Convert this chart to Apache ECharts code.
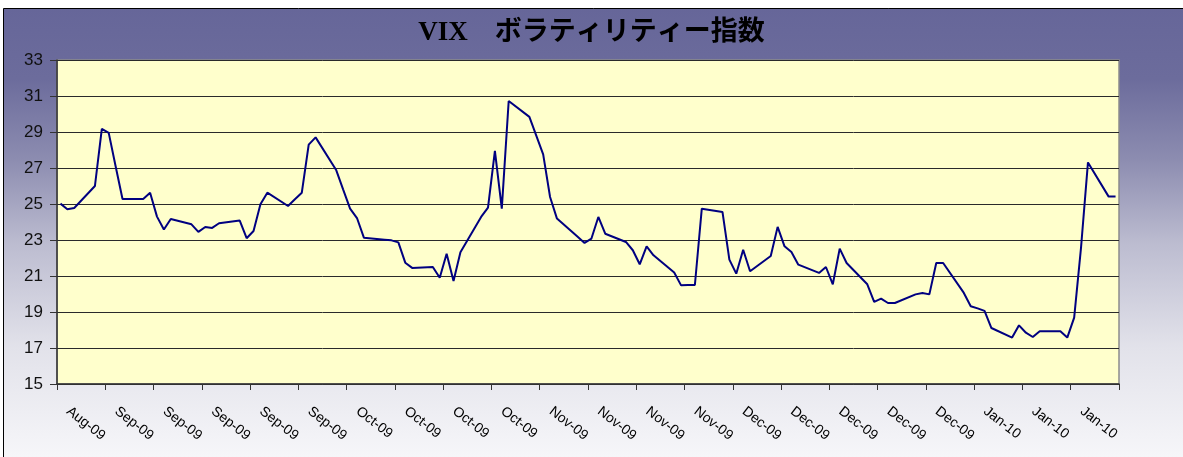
<!DOCTYPE html>
<html lang="ja">

<head>
  <meta charset="UTF-8">
  <title>VIX ボラティリティー指数</title>
  <style>
    html, body { margin: 0; padding: 0; background: #fff; }
    #chart { width: 1183px; height: 457px; }
  </style>
</head>

<body>
  <div id="chart"></div>
  <script src="https://cdn.jsdelivr.net/npm/echarts@6/dist/echarts.min.js"></script>
  <script>
    // 取引日（祝日は前日の値で埋めてある）
    var dates = [
      '2009-08-26', '2009-08-27', '2009-08-28', '2009-08-31',
      '2009-09-01', '2009-09-02', '2009-09-03', '2009-09-04', '2009-09-07', '2009-09-08', '2009-09-09', '2009-09-10', '2009-09-11',
      '2009-09-14', '2009-09-15', '2009-09-16', '2009-09-17', '2009-09-18', '2009-09-21', '2009-09-22', '2009-09-23', '2009-09-24', '2009-09-25',
      '2009-09-28', '2009-09-29', '2009-09-30',
      '2009-10-01', '2009-10-02', '2009-10-05', '2009-10-06', '2009-10-07', '2009-10-08', '2009-10-09', '2009-10-12', '2009-10-13', '2009-10-14',
      '2009-10-15', '2009-10-16', '2009-10-19', '2009-10-20', '2009-10-21', '2009-10-22', '2009-10-23', '2009-10-26', '2009-10-27', '2009-10-28',
      '2009-10-29', '2009-10-30',
      '2009-11-02', '2009-11-03', '2009-11-04', '2009-11-05', '2009-11-06', '2009-11-09', '2009-11-10', '2009-11-11', '2009-11-12', '2009-11-13',
      '2009-11-16', '2009-11-17', '2009-11-18', '2009-11-19', '2009-11-20', '2009-11-23', '2009-11-24', '2009-11-25', '2009-11-26', '2009-11-27',
      '2009-11-30',
      '2009-12-01', '2009-12-02', '2009-12-03', '2009-12-04', '2009-12-07', '2009-12-08', '2009-12-09', '2009-12-10', '2009-12-11', '2009-12-14',
      '2009-12-15', '2009-12-16', '2009-12-17', '2009-12-18', '2009-12-21', '2009-12-22', '2009-12-23', '2009-12-24', '2009-12-25', '2009-12-28',
      '2009-12-29', '2009-12-30', '2009-12-31',
      '2010-01-01', '2010-01-04', '2010-01-05', '2010-01-06', '2010-01-07', '2010-01-08', '2010-01-11', '2010-01-12', '2010-01-13', '2010-01-14',
      '2010-01-15', '2010-01-18', '2010-01-19', '2010-01-20', '2010-01-21', '2010-01-22', '2010-01-25', '2010-01-26'
    ];

    // VIX 終値
    var vix = [
      25.02, 24.71, 24.78, 26.00,
      29.17, 28.95, 27.10, 25.28, 25.28, 25.63, 24.30, 23.58, 24.17,
      23.87, 23.45, 23.72, 23.67, 23.93, 24.08, 23.10, 23.50, 24.98, 25.63,
      24.89, 25.26, 25.63,
      28.30, 28.70, 26.87, 25.80, 24.74, 24.22, 23.13, 23.02, 22.98, 22.87,
      21.74, 21.45, 21.50, 20.90, 22.24, 20.72, 22.32, 24.28, 24.80, 27.95,
      24.74, 30.72,
      29.84, 28.80, 27.76, 25.39, 24.19, 23.18, 22.84, 23.08, 24.28, 23.35,
      22.89, 22.43, 21.65, 22.65, 22.15, 21.19, 20.48, 20.50, 20.50, 24.74,
      24.56,
      21.91, 21.13, 22.46, 21.26, 22.11, 23.73, 22.65, 22.33, 21.63, 21.17,
      21.50, 20.54, 22.52, 21.72, 20.54, 19.56, 19.74, 19.50, 19.50, 19.98,
      20.06, 19.98, 21.72,
      21.72, 20.06, 19.32, 19.20, 19.06, 18.11, 17.58, 18.26, 17.85, 17.61,
      17.93, 17.93, 17.58, 18.69, 22.60, 27.31, 25.41, 25.41
    ];

    // 週ごとの目盛りラベル
    var tickLabels = [
      'Aug-09', 'Sep-09', 'Sep-09', 'Sep-09', 'Sep-09', 'Sep-09',
      'Oct-09', 'Oct-09', 'Oct-09', 'Oct-09',
      'Nov-09', 'Nov-09', 'Nov-09', 'Nov-09',
      'Dec-09', 'Dec-09', 'Dec-09', 'Dec-09', 'Dec-09',
      'Jan-10', 'Jan-10', 'Jan-10'
    ];

    var startDay = Date.parse(dates[0]);

    // 日付 -> 軸上の位置（日の枠の中央）
    function dayPos(d) {
      return (Date.parse(d) - startDay) / 86400000 + 0.5;
    }

    var lineData = dates.map(function (d, i) {
      return [dayPos(d), vix[i]];
    });

    var myChart = echarts.init(document.getElementById('chart'));

    var option = {
      animation: false,
      backgroundColor: '#ffffff',
      graphic: [{
        type: 'rect',
        z: -10,
        silent: true,
        shape: { x: 3.5, y: 8.5, width: 1200, height: 470 },
        style: {
          stroke: '#000',
          lineWidth: 1,
          fill: {
            type: 'linear', x: 0, y: 0, x2: 0, y2: 1,
            colorStops: [
              { offset: 0, color: '#666699' },
              { offset: 0.15, color: '#6c6c9c' },
              { offset: 0.32, color: '#8c8cb0' },
              { offset: 0.5, color: '#bcbcd0' },
              { offset: 0.72, color: '#e2e2ea' },
              { offset: 1, color: '#fafafc' }
            ]
          }
        }
      }],
      title: {
        text: 'VIX\u3000ボラティリティー指数',
        left: 'center',
        top: 15,
        padding: [5, 5, 5, 26],
        textStyle: {
          fontFamily: '"Liberation Serif", "Noto Sans CJK JP", serif',
          fontWeight: 'bold',
          fontSize: 27,
          color: '#000'
        }
      },
      grid: {
        left: 57,
        top: 60,
        width: 1062,
        height: 324,
        show: true,
        backgroundColor: '#ffffcc',
        borderColor: '#8c8c8c',
        borderWidth: 1.5
      },
      xAxis: {
        type: 'value',
        min: 0,
        max: 154,
        interval: 7,
        splitLine: { show: false },
        axisLine: { lineStyle: { color: '#333', width: 1.5 } },
        axisTick: { inside: false, length: 6, lineStyle: { color: '#333' } },
        axisLabel: {
          rotate: -38,
          margin: 17,
          padding: [0, 0, 0, 14],
          fontFamily: '"Liberation Sans", Arial, sans-serif',
          fontSize: 14,
          color: '#000',
          formatter: function (value) {
            return tickLabels[Math.round(value / 7)] || '';
          }
        }
      },
      yAxis: {
        type: 'value',
        min: 15,
        max: 33,
        interval: 2,
        axisLine: { show: true, lineStyle: { color: '#333', width: 1.5 } },
        axisTick: { show: true, inside: false, length: 7, lineStyle: { color: '#333' } },
        splitLine: { lineStyle: { color: '#2a2a2a', width: 1 } },
        axisLabel: {
          margin: 14,
          fontFamily: '"Liberation Sans", Arial, sans-serif',
          fontSize: 17,
          color: '#111'
        }
      },
      series: [{
        name: 'VIX',
        type: 'line',
        data: lineData,
        showSymbol: false,
        lineStyle: { color: '#000080', width: 2 },
        emphasis: { disabled: true }
      }]
    };

    myChart.setOption(option);
  </script>
</body>

</html>
